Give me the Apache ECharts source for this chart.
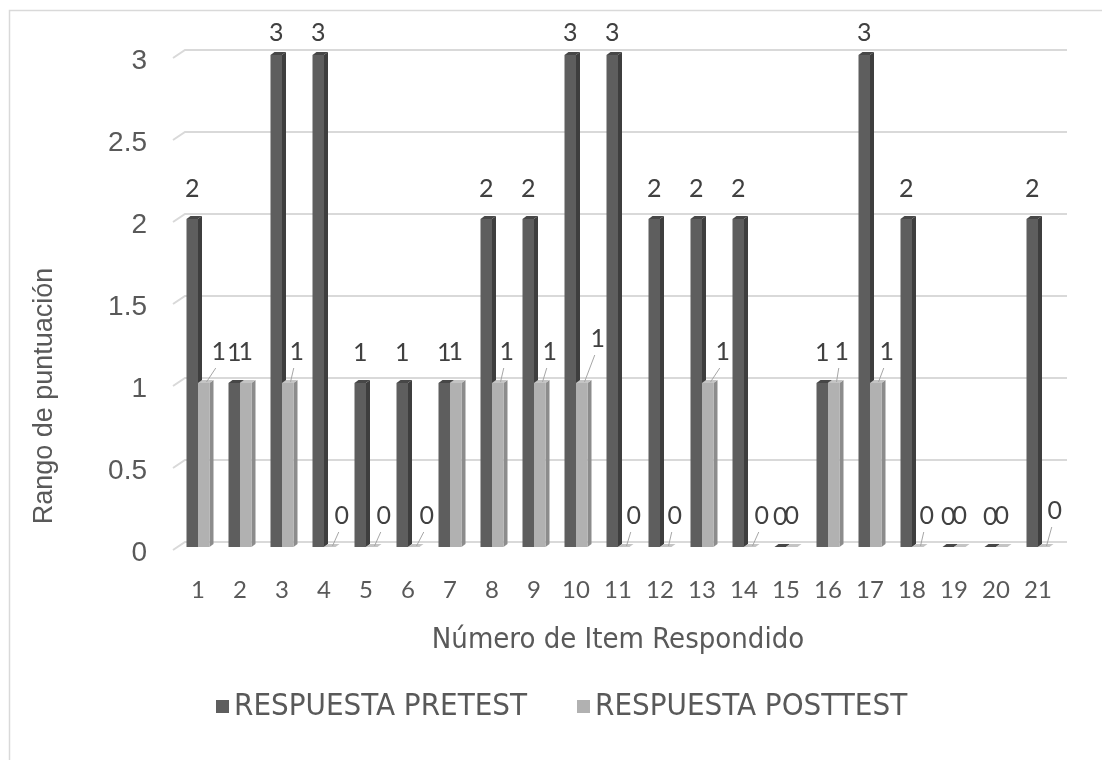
<!DOCTYPE html>
<html>
<head>
<meta charset="utf-8">
<script src="https://cdn.jsdelivr.net/npm/echarts@6/dist/echarts.min.js"></script>
<style>
  html, body { margin: 0; padding: 0; background: #ffffff; }
  #chart { width: 1102px; height: 760px; }
</style>
</head>
<body>
<div id="chart"></div>
<script>
// Item numbers on the category axis
const items = ['1','2','3','4','5','6','7','8','9','10','11','12','13','14','15','16','17','18','19','20','21'];
// Scores per item
const pretest  = [2,1,3,3,1,1,1,2,2,3,3,2,2,2,0,1,3,2,0,0,2];
const posttest = [1,1,1,0,0,0,1,1,1,1,0,0,1,0,0,1,1,0,0,0,0];
// Value-axis ticks (back-wall gridlines)
const yTicks = [0, 0.5, 1, 1.5, 2, 2.5, 3];

// Label nudges for the posttest values (0 = centred above the bar, no leader line)
const postLabelDx = [15,0,9,12,12,13,0,9,10,16,10,9,15,12,0,8,11,9,0,0,11];
const postLabelDy = [-31,-31,-31,-31,-31,-31,-31,-31,-31,-44,-31,-31,-31,-31,-31,-31,-31,-31,-31,-31,-36];

const BAR_W = 11.5;           // front face width of one column
const DEPTH = [4, -3];        // visible depth of each column
const WALL = [8, -5];         // offset of the back wall from the column plane
const LABEL_TOP = 33;         // highest centre line for a value label
const TEXT = '#595959';
const LABEL = '#404040';
const NARROW = "'Liberation Sans Narrow', 'DejaVu Sans Condensed', sans-serif";
const ARIAL = "'Liberation Sans', Arial, sans-serif";

const styles = [
  { front: '#5e5e5e', side: '#3e3e3e', top: '#474747' },
  { front: '#b1b1b1', side: '#8c8c8c', top: '#c4c4c4' }
];

function columnRenderer(which) {
  return function (params, api) {
    const i = api.value(0);
    const v = api.value(1);
    const base = api.coord([i, 0]);
    const top = api.coord([i, v]);
    const c = base[0];
    const x0 = which === 0 ? c - BAR_W : c;
    const x1 = x0 + BAR_W;
    const yT = top[1], yB = base[1];
    const [dx, dy] = DEPTH;
    const st = styles[which];
    const children = [
      { type: 'polygon', shape: { points: [[x1, yT], [x1 + dx, yT + dy], [x1 + dx, yB + dy], [x1, yB]] },
        style: { fill: st.side } },
      { type: 'polygon', shape: { points: [[x0, yT], [x0 + dx, yT + dy], [x1 + dx, yT + dy], [x1, yT]] },
        style: { fill: st.top } },
      { type: 'rect', shape: { x: x0, y: yT, width: BAR_W, height: yB - yT },
        style: { fill: st.front } }
    ];
    let lx = x0 + BAR_W / 2, ly = Math.max(yT - 30, LABEL_TOP);
    if (which === 1) {
      const ndx = postLabelDx[i];
      lx += ndx;
      ly = yT + postLabelDy[i];
      if (ndx !== 0) {
        children.push({ type: 'line', shape: { x1: x1 - 3, y1: yT - 1, x2: lx - 3, y2: ly + 16 },
          style: { stroke: '#a6a6a6', lineWidth: 1 } });
      }
    }
    children.push({ type: 'text', x: lx, y: ly,
      style: { text: String(v), fill: LABEL, fontSize: 25, fontFamily: 'Lato, sans-serif',
               align: 'center', verticalAlign: 'middle' } });
    return { type: 'group', children: children };
  };
}

function gridRenderer(params, api) {
  const v = api.value(1);
  const y = api.coord([0, v])[1];
  const cs = params.coordSys;
  const xl = cs.x, xr = cs.x + cs.width;
  return {
    type: 'polyline',
    shape: { points: [[xl - 4, y + 3], [xl + WALL[0], y + WALL[1]], [xr + WALL[0], y + WALL[1]]] },
    style: { stroke: '#d9d9d9', lineWidth: 2, fill: null }
  };
}

const chart = echarts.init(document.getElementById('chart'), null, { renderer: 'canvas' });
chart.setOption({
  backgroundColor: '#ffffff',
  animation: false,
  graphic: [
    { type: 'rect', shape: { x: 9.5, y: 10.5, width: 1300, height: 900 },
      style: { fill: null, stroke: '#d9d9d9', lineWidth: 1.5 }, z: -10 },
    { type: 'text', x: 45, y: 396, rotation: Math.PI / 2,
      style: { text: 'Rango de puntuación', fill: TEXT, fontSize: 27, fontFamily: ARIAL,
               align: 'center', verticalAlign: 'middle' } }
  ],
  grid: { left: 177, right: 43, top: 55, bottom: 213, containLabel: false },
  legend: {
    data: ['RESPUESTA PRETEST', 'RESPUESTA POSTTEST'],
    left: 216, top: 691, padding: 0,
    icon: 'rect', itemWidth: 13, itemHeight: 13, itemGap: 50,
    textStyle: { color: TEXT, fontSize: 31, fontFamily: NARROW }
  },
  xAxis: {
    type: 'category',
    data: items,
    axisLine: { show: false }, axisTick: { show: false },
    axisLabel: { color: TEXT, fontSize: 24, fontFamily: 'Lato, sans-serif', margin: 31 },
    name: 'Número de Item Respondido',
    nameLocation: 'middle', nameGap: 79,
    nameTextStyle: { color: TEXT, fontSize: 29, fontFamily: NARROW }
  },
  yAxis: {
    type: 'value', min: 0, max: 3, interval: 0.5,
    splitLine: { show: false }, axisLine: { show: false }, axisTick: { show: false },
    axisLabel: { color: TEXT, fontSize: 28, fontFamily: ARIAL,
                 margin: 30, verticalAlign: 'top', lineHeight: 12 }
  },
  series: [
    { type: 'custom', name: 'gridlines', renderItem: gridRenderer, silent: true, z: 1,
      data: yTicks.map(v => [0, v]), encode: { x: 0, y: 1 } },
    { type: 'custom', name: 'RESPUESTA PRETEST', renderItem: columnRenderer(0), z: 2,
      itemStyle: { color: '#5e5e5e' },
      data: pretest.map((v, i) => [i, v]), encode: { x: 0, y: 1 } },
    { type: 'custom', name: 'RESPUESTA POSTTEST', renderItem: columnRenderer(1), z: 3,
      itemStyle: { color: '#b1b1b1' },
      data: posttest.map((v, i) => [i, v]), encode: { x: 0, y: 1 } }
  ]
});
</script>
</body>
</html>
